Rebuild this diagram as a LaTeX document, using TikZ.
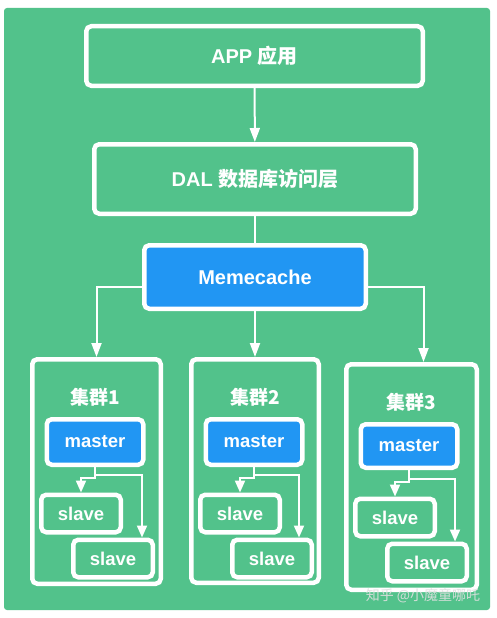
\documentclass[tikz,border=0pt]{standalone}
\usepackage{fontspec}
\setmainfont{Liberation Sans}
\newfontfamily\cjk{Noto Sans CJK SC}
\usetikzlibrary{arrows.meta,calc}
\definecolor{bggreen}{RGB}{82,194,139}
\definecolor{boxblue}{RGB}{33,150,243}
\tikzset{
  gbox/.style={draw=white,line width=4.5pt,rounded corners=5pt,fill=bggreen,
    text=white,font=\fontsize{18.5pt}{20pt}\selectfont\bfseries,inner sep=0pt},
  bbox/.style={gbox,fill=boxblue},
  bigtext/.style={font=\fontsize{20pt}{22pt}\selectfont\bfseries},
  arr/.style={draw=white,line width=2pt,-{Triangle[length=14pt,width=10pt]}},
  sarr/.style={draw=white,line width=2pt,-{Triangle[length=12pt,width=10pt]}},
  lnk/.style={draw=white,line width=2pt},
  ttl/.style={text=white,font=\fontsize{19pt}{20pt}\selectfont\bfseries\cjk,inner sep=0pt}
}
\begin{document}
\begin{tikzpicture}[x=1pt,y=-1pt]
\useasboundingbox (0,0) rectangle (496,618);
\fill[white] (0,0) rectangle (496,618);
\fill[bggreen,rounded corners=3pt] (4,8) rectangle (490,610);

\node[gbox,bigtext,minimum width=336.5pt,minimum height=59.5pt] (app) at (254.5,56) {APP {\cjk 应用}};
\node[gbox,bigtext,minimum width=321.5pt,minimum height=69.5pt] (dal) at (255,179) {DAL {\cjk 数据库访问层}};
\node[bbox,bigtext,minimum width=221.5pt,minimum height=63.5pt] (mem) at (255,277) {Memecache};

\node[gbox,minimum width=128.5pt,minimum height=224.5pt] (c1) at (96.5,471.5) {};
\node[gbox,minimum width=127.5pt,minimum height=223.5pt] (c2) at (255,471) {};
\node[gbox,minimum width=130.5pt,minimum height=225.5pt] (c3) at (411.5,477) {};

\node[ttl] (t1) at (95,397) {集群1};
\node[ttl] (t2) at (255,397) {集群2};
\node[ttl] (t3) at (411,402) {集群3};

\node[bbox,minimum width=96.5pt,minimum height=45.5pt] (m1) at (95,442) {master};
\node[bbox,minimum width=96.5pt,minimum height=45.5pt] (m2) at (254,442) {master};
\node[bbox,minimum width=96.5pt,minimum height=43.5pt] (m3) at (409,446) {master};

\node[gbox,minimum width=79.5pt,minimum height=37.5pt] (s1a) at (81,513.5) {slave};
\node[gbox,minimum width=79.5pt,minimum height=37.5pt] (s1b) at (113,558.5) {slave};
\node[gbox,minimum width=79.5pt,minimum height=37.5pt] (s2a) at (240,513.5) {slave};
\node[gbox,minimum width=79.5pt,minimum height=37.5pt] (s2b) at (272,558.5) {slave};
\node[gbox,minimum width=79.5pt,minimum height=37.5pt] (s3a) at (395,517.5) {slave};
\node[gbox,minimum width=79.5pt,minimum height=37.5pt] (s3b) at (427,562.5) {slave};

\draw[arr] (app) -- (dal);
\draw[lnk] (dal) -- (mem);
\draw[arr] ($(mem.west)+(0,10)$) -| (c1.north);
\draw[arr] (mem.south) -- (c2.north);
\draw[arr] ($(mem.east)+(0,10)$) -| ($(c3.north)+(12,0)$);

\draw[sarr] (m1.south) -- ++(0,11) -| (s1a.north);
\draw[sarr] ($(m1.south)+(0,8)$) -| ($(s1b.north)+(29,0)$);
\draw[sarr] (m2.south) -- ++(0,11) -| (s2a.north);
\draw[sarr] ($(m2.south)+(0,8)$) -| ($(s2b.north)+(27,0)$);
\draw[sarr] (m3.south) -- ++(0,12) -| (s3a.north);
\draw[sarr] ($(m3.south)+(0,9)$) -| ($(s3b.north)+(28,0)$);

\node[text=white!88!black,opacity=0.9,font=\fontsize{14pt}{16pt}\selectfont\cjk,inner sep=0pt] (wm) at (423,596) {知乎 @小魔童哪吒};
\end{tikzpicture}
\end{document}
